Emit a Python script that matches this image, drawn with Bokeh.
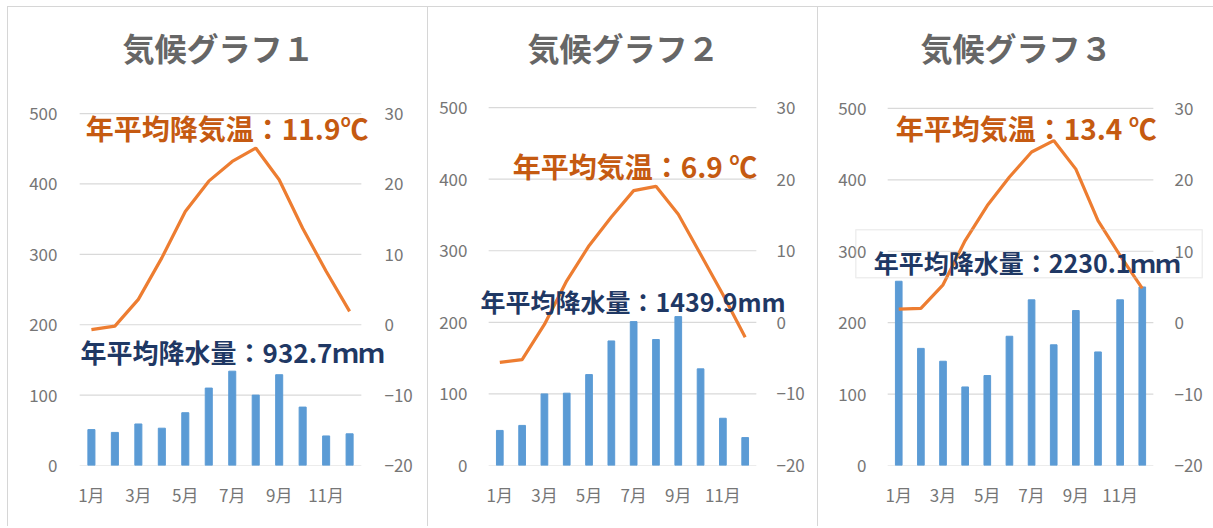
from bokeh.plotting import figure
from bokeh.layouts import row
from bokeh.models import (Range1d, LinearAxis, FixedTicker, Label, Title, BoxAnnotation)
from bokeh.embed import file_html
from bokeh.resources import INLINE

# ---------------- data ----------------
months = ["1月", "2月", "3月", "4月", "5月", "6月", "7月", "8月", "9月", "10月", "11月", "12月"]

titles = ["気候グラフ１", "気候グラフ２", "気候グラフ３"]

precip1 = [51, 47, 59, 53, 75, 110, 134, 100, 129, 83, 42, 45]
temp1 = [-0.7, -0.2, 3.6, 9.5, 16.1, 20.4, 23.2, 25.1, 20.6, 13.7, 7.6, 1.9]

precip2 = [49, 56, 100, 101, 127, 174, 201, 176, 208, 135, 66, 39]
temp2 = [-5.6, -5.2, -0.3, 5.8, 10.7, 14.7, 18.4, 19.0, 15.1, 9.5, 3.9, -2.1]

precip3 = [258, 164, 146, 110, 126, 181, 232, 169, 217, 159, 232, 250]
temp3 = [1.9, 2.0, 5.3, 11.5, 16.4, 20.4, 23.9, 25.5, 21.5, 14.3, 9.4, 4.8]

temp_labels = ["年平均降気温：11.9℃", "年平均気温：6.9 ℃", "年平均気温：13.4 ℃"]
precip_labels = ["年平均降水量：932.7ｍｍ", "年平均降水量：1439.9mm", "年平均降水量：2230.1ｍｍ"]

precip_ticks = [0, 100, 200, 300, 400, 500]
temp_ticks = [-20, -10, 0, 10, 20, 30]
temp_min = -20          # right axis value aligned with precip 0
temp_per_precip = 0.1   # 10 ℃ per 100 mm

# ---------------- style ----------------
FONT = "Noto Sans CJK JP"
BAR = "#5b9bd5"
LINE = "#ed7d31"
GRID = "#d9d9d9"
TICK = "#767676"
ORANGE_TXT = "#c55a11"
NAVY_TXT = "#1f3864"
PANEL_BORDER = "1px solid #d6d6d6"

HEIGHT = 520
FRAME_TOP = 75  # canvas px

# per-panel geometry (canvas pixels) and annotation placement (data units)
layouts = [
    dict(width=420, pl=71, pr=67, zero=457, top500=106, lstand=-49, rstand=-44,
         tpos=(0.76, 479), ppos=(0.54, 162), psize="26px", box=None),
    dict(width=390, pl=60, pr=62, zero=457, top500=100, lstand=-39, rstand=-42,
         tpos=(1.58, 419), ppos=(0.14, 230), psize="25px", box=None),
    dict(width=396, pl=69, pr=61, zero=459, top500=101, lstand=-48, rstand=-40,
         tpos=(0.86, 472), ppos=(-0.13, 285), psize="25px", box=(-0.94, 14.71, 263, 330)),
]

series = [(precip1, temp1), (precip2, temp2), (precip3, temp3)]
xs = list(range(1, len(months) + 1))
n = len(months)

figs = []
for i, ((prec, temp), lay) in enumerate(zip(series, layouts)):
    cw = lay["width"] - 1
    unit = (cw - lay["pl"] - lay["pr"]) / n
    x0 = 0.5 - lay["pl"] / unit
    x1 = n + 0.5 + lay["pr"] / unit
    ppu = (lay["zero"] - lay["top500"]) / 500.0
    yend = (lay["zero"] - FRAME_TOP) / ppu

    p = figure(x_range=Range1d(x0, x1), y_range=Range1d(0, yend),
               width=lay["width"], height=HEIGHT,
               output_backend="svg", toolbar_location=None,
               min_border_left=0, min_border_right=0,
               min_border_top=FRAME_TOP, min_border_bottom=(HEIGHT - 1) - lay["zero"])
    p.extra_y_ranges = {"temp": Range1d(temp_min, temp_min + yend * temp_per_precip)}
    p.outline_line_color = None
    p.background_fill_color = "white"
    p.border_fill_color = "white"
    p.xgrid.grid_line_color = None
    p.ygrid.grid_line_color = None

    t = Title(text=titles[i], align="center", text_font=FONT, text_font_size="32px",
              text_color="#666666", text_font_style="bold", standoff=25)
    p.add_layout(t, "above")

    # gridlines across the category area only
    p.segment(x0=[0.5] * len(precip_ticks), x1=[n + 0.5] * len(precip_ticks),
              y0=precip_ticks, y1=precip_ticks, line_color=GRID, line_width=1.2,
              level="underlay")

    p.vbar(x=xs, top=prec, width=0.3, color=BAR)
    p.line(x=xs, y=temp, y_range_name="temp", line_color=LINE, line_width=3.2)

    # axes
    laxis = p.yaxis[0]
    laxis.ticker = FixedTicker(ticks=precip_ticks)
    raxis = LinearAxis(y_range_name="temp", ticker=FixedTicker(ticks=temp_ticks))
    p.add_layout(raxis, "right")

    for ax, st in [(laxis, lay["lstand"]), (raxis, lay["rstand"])]:
        ax.axis_line_color = None
        ax.major_tick_line_color = None
        ax.minor_tick_line_color = None
        ax.major_tick_out = 0
        ax.major_tick_in = 0
        ax.major_label_text_font = FONT
        ax.major_label_text_font_size = "17px"
        ax.major_label_text_color = TICK
        ax.major_label_standoff = st

    xa = p.xaxis[0]
    xa.ticker = FixedTicker(ticks=[x for x in xs if x % 2 == 1])
    xa.major_label_overrides = {x: m for x, m in zip(xs, months)}
    xa.axis_line_color = None
    xa.major_tick_line_color = None
    xa.minor_tick_line_color = None
    xa.major_tick_out = 0
    xa.major_tick_in = 0
    xa.major_label_text_font = FONT
    xa.major_label_text_font_size = "17px"
    xa.major_label_text_color = TICK
    xa.major_label_standoff = 16

    # annotations
    tx, ty = lay["tpos"]
    p.add_layout(Label(x=tx, y=ty, text=temp_labels[i], text_font=FONT,
                       text_font_size="28px", text_font_style="bold",
                       text_color=ORANGE_TXT, text_baseline="middle"))
    if lay["box"] is not None:
        bl, br, bb, bt = lay["box"]
        p.add_layout(BoxAnnotation(left=bl, right=br, bottom=bb, top=bt,
                                   fill_color=None, fill_alpha=0,
                                   line_color="#c8c8c8", line_width=1.5))
    px_, py_ = lay["ppos"]
    p.add_layout(Label(x=px_, y=py_, text=precip_labels[i], text_font=FONT,
                       text_font_size=lay["psize"], text_font_style="bold",
                       text_color=NAVY_TXT, text_baseline="middle"))

    p.styles = {"border-left": PANEL_BORDER, "border-top": PANEL_BORDER}
    figs.append(p)

layout = row(*figs, margin=(6, 0, 0, 7))
open("out.html", "w").write(file_html(layout, INLINE))
